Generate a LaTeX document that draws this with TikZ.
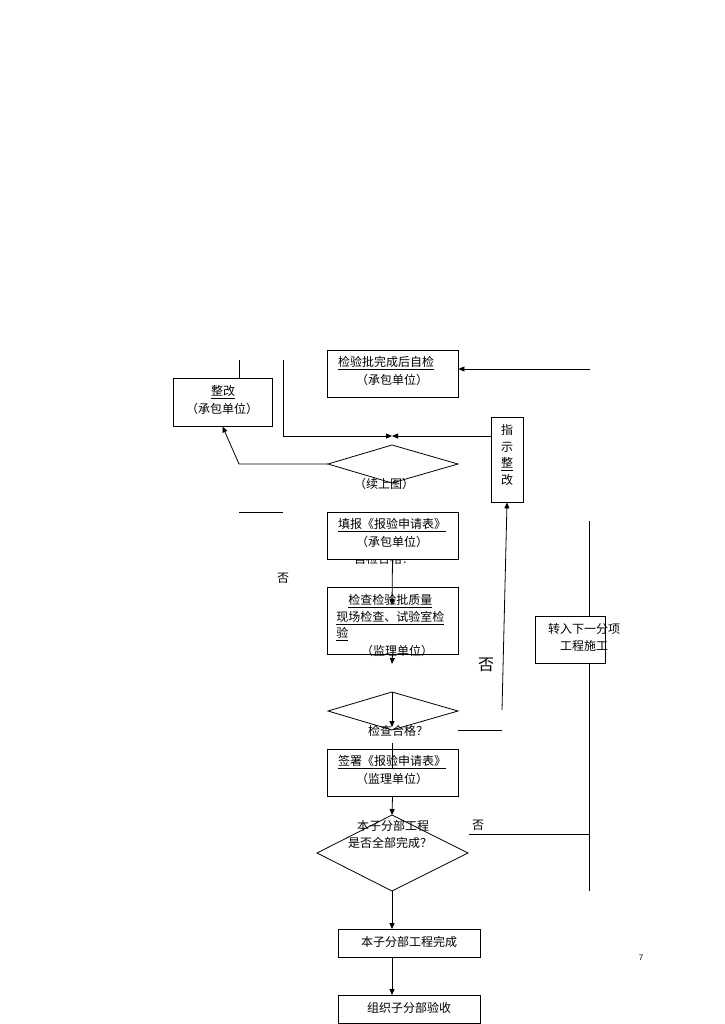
\documentclass[tikz,border=0pt]{standalone}
\usepackage{fontspec}
\setmainfont{Liberation Sans}
\newfontfamily\cjk{Noto Sans CJK SC}
\usetikzlibrary{arrows.meta}
\begin{document}
\begin{tikzpicture}[x=1pt,y=-1pt,line width=0.8pt,
  box/.style={draw,fill=white},
  txt/.style={font=\cjk\fontsize{12}{14}\selectfont,inner sep=0pt,anchor=center},
  arr/.style={-{Triangle[length=6pt,width=5pt]}}]
\useasboundingbox (0,0) rectangle (724,1024);
% top box
\node[box,minimum width=131pt,minimum height=47pt] (a) at (392.5,373.5) {};
\node[txt] (a1) at (386,363) {\underline{检验批完成后自检}};
\node[txt] (a2) at (392,380) {（承包单位）};
\coordinate (ar) at (590,369);
\draw[arr] (ar) -- (a.east |- ar);
% rework box
\node[box,minimum width=99pt,minimum height=48pt] (b) at (222.5,402) {};
\node[txt] (b1) at (223,392) {\underline{整改}};
\node[txt] (b2) at (222,409) {（承包单位）};
\coordinate (bt) at (239,360);
\draw (bt) -- (239,378);
% left loop line
\coordinate (l1) at (283,360);
\coordinate (m) at (392,436);
\draw[arr] (l1) -- (283,436) -- (m);
% indicator box
\node[box,minimum width=32pt,minimum height=85pt] (c) at (507,459.5) {};
\node[txt] at (507,430) {指};
\node[txt] at (507,447) {示};
\node[txt] at (507,464) {\underline{整}};
\node[txt] at (507,480) {改};
\draw[arr] (c.west |- m) -- (m);
% diamond 1
\coordinate (d1l) at (328,464);
\draw (d1l) -- (392,445) -- (458,464) -- (392,483) -- cycle;
\node[txt] at (384,484) {（续上图）};
\draw[arr] (d1l) -- (239,464) -- (b.south);
\coordinate (c0) at (502,710);
\draw[arr] (c0) -- (c.south);
\draw (239,512) -- (283,512);
% self check text (hidden)
\node[txt] at (384,559) {自检合格？};
% fill box
\node[box,minimum width=131pt,minimum height=47pt] (e) at (392.5,535.5) {};
\node[txt] at (392,525) {\underline{填报《报验申请表》}};
\node[txt] at (392,542) {（承包单位）};
\node[txt] at (283,578) {否};
% inspection box
\node[box,minimum width=131pt,minimum height=67pt] (f) at (392.5,620.5) {};
\draw[arr] (e.south) -- (392,605);
\node[txt,anchor=west] at (336,601) {\hspace*{12pt}\underline{检查检验批质量}};
\node[txt,anchor=west] at (336,618) {\underline{现场检查、试验室检}};
\node[txt,anchor=west] at (336,634) {\underline{验}};
\node[txt] at (397,651) {（监理单位）};
\draw[arr] (f.south) -- (392,664);
\node[txt,font=\cjk\fontsize{16}{18}\selectfont] at (486,665) {否};
% diamond 2
\coordinate (d2t) at (392,692);
\draw (328,711) -- (d2t) -- (458,711) -- (392,730) -- cycle;
\draw[arr] (d2t) -- (392,727);
\node[txt] at (398,731) {检查合格？};
\coordinate (n1) at (458,730);
\draw (n1) -- (502,730);
% sign box
\node[box,minimum width=131pt,minimum height=47pt] (g) at (392.5,772.5) {};
\draw (392,743) -- (392,768);
\node[txt] at (392,762) {\underline{签署《报验申请表》}};
\node[txt] at (392,779) {（监理单位）};
% diamond 3
\coordinate (d3t) at (392,815);
\coordinate (d3b) at (392,891);
\draw (317,853) -- (d3t) -- (468,853) -- (d3b) -- cycle;
\draw[arr] (g.south) -- (d3t);
\node[txt] at (393,826) {本子分部工程};
\node[txt] at (390,843) {是否全部完成？};
\node[txt] at (478,825) {否};
\coordinate (n2) at (469,834);
\draw (n2) -- (589,834);
% right vertical and box
\coordinate (v1) at (589,521);
\coordinate (v2) at (589,891);
\draw (v1) -- (v2);
\node[box,minimum width=70pt,minimum height=47pt] (h) at (570,639.5) {};
\node[txt] at (584,629) {转入下一分项};
\node[txt] at (584,646) {工程施工};
% final boxes
\node[box,minimum width=142pt,minimum height=28pt] (i) at (409,943) {};
\node[txt] at (409,942) {本子分部工程完成};
\draw[arr] (d3b) -- (392,929);
\node[box,minimum width=142pt,minimum height=28pt] (j) at (409,1009) {};
\node[txt] at (409,1008) {组织子分部验收};
\draw[arr] (392,957) -- (392,995);
\node[font=\fontsize{8}{9}\selectfont] at (641,958) {7};
\end{tikzpicture}
\end{document}
